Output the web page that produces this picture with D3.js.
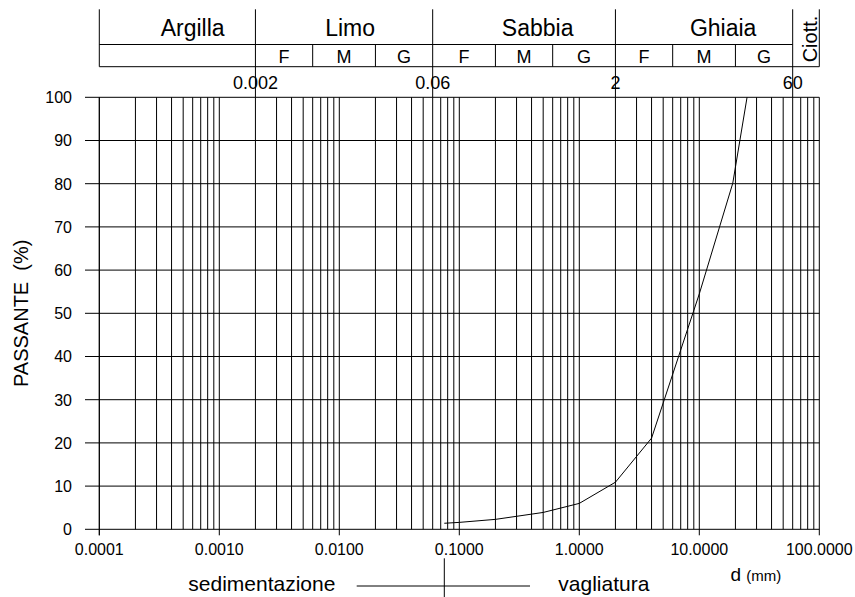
<!DOCTYPE html>
<html>
<head>
<meta charset="utf-8">
<script src="https://cdn.jsdelivr.net/npm/d3@7"></script>
<style>
  html, body { margin: 0; padding: 0; background: #fff; }
  svg { display: block; }
  text { font-family: "Liberation Sans", Arial, sans-serif; fill: #000; }
</style>
</head>
<body>
<svg id="chart" width="855" height="597"></svg>
<script>
// ---- data ----
const sizes   = [0.075, 0.1, 0.2, 0.5, 1, 2, 4, 10, 19, 25];          // d (mm)
const passing = [1.4, 1.6, 2.3, 3.9, 6.0, 10.9, 21.1, 54.5, 80.1, 100]; // %
const xTickValues = [0.0001, 0.001, 0.01, 0.1, 1, 10, 100];
const xTickLabels = ["0.0001", "0.0010", "0.0100", "0.1000", "1.0000", "10.0000", "100.0000"];
const yTickValues = [0, 10, 20, 30, 40, 50, 60, 70, 80, 90, 100];
const classNames  = ["Argilla", "Limo", "Sabbia", "Ghiaia"];
const classAnchor = [0.0006, 0.0123, 0.45, 15.8];   // d where class name is centred
const boundaries  = [0.002, 0.06, 2, 60];
const boundaryLabels = ["0.002", "0.06", "2", "60"];
const subBounds   = [[0.002, 0.006, 0.02, 0.06], [0.06, 0.2, 0.6, 2], [2, 6, 20, 60]];
const subLabels   = ["F", "M", "G"];
const lastClass   = "Ciott.";
const sieveLimit  = 0.075;

// ---- layout ----
const svg = d3.select("#chart");
const x = d3.scaleLog().domain([0.0001, 100]).range([99.3, 819.3]);
const y = d3.scaleLinear().domain([0, 100]).range([529.3, 97.3]);
const hTop = 9.3, hMid = 44.5, hBot = 66.7;

// vertical grid
const gridVals = x.ticks();
svg.append("g").selectAll("line").data(gridVals).join("line")
  .attr("x1", d => x(d)).attr("x2", d => x(d))
  .attr("y1", y(100))
  .attr("y2", d => xTickValues.some(t => Math.abs(Math.log10(t) - Math.log10(d)) < 1e-9) ? y(0) + 6 : y(0))
  .attr("stroke", "#000").attr("stroke-width", 1);

// horizontal grid
svg.append("g").selectAll("line").data(yTickValues).join("line")
  .attr("x1", 85).attr("x2", x(100))
  .attr("y1", d => y(d)).attr("y2", d => y(d))
  .attr("stroke", "#000").attr("stroke-width", 1);

// class boundaries extending into header
svg.append("g").selectAll("line").data(boundaries).join("line")
  .attr("x1", d => x(d)).attr("x2", d => x(d))
  .attr("y1", hTop).attr("y2", y(100))
  .attr("stroke", "#000").attr("stroke-width", 1);

// header frame
const hdr = svg.append("g").attr("stroke", "#000").attr("stroke-width", 1);
hdr.append("line").attr("x1", x(0.0001)).attr("x2", x(0.0001)).attr("y1", hTop).attr("y2", hBot);
hdr.append("line").attr("x1", x(100)).attr("x2", x(100)).attr("y1", hTop).attr("y2", hBot);
hdr.append("line").attr("x1", x(0.0001)).attr("x2", x(60)).attr("y1", hMid).attr("y2", hMid);
hdr.append("line").attr("x1", x(0.0001)).attr("x2", x(100)).attr("y1", hBot).attr("y2", hBot);
subBounds.forEach(b => {
  b.slice(1, 3).forEach(v => {
    hdr.append("line").attr("x1", x(v)).attr("x2", x(v)).attr("y1", hMid).attr("y2", hBot);
  });
});

// header texts
svg.append("g").selectAll("text").data(classNames).join("text")
  .attr("x", (d, i) => x(classAnchor[i])).attr("y", 36)
  .attr("text-anchor", "middle").attr("font-size", 23).text(d => d);

subBounds.forEach(b => {
  subLabels.forEach((s, i) => {
    svg.append("text")
      .attr("x", (x(b[i]) + x(b[i + 1])) / 2).attr("y", 63.3)
      .attr("text-anchor", "middle").attr("font-size", 18).text(s);
  });
});

svg.append("text")
  .attr("transform", `translate(${x(100) - 2.5},${(hTop + hBot) / 2 + 1}) rotate(-90)`)
  .attr("text-anchor", "middle").attr("font-size", 20).text(lastClass);

svg.append("g").selectAll("text").data(boundaries).join("text")
  .attr("x", d => x(d)).attr("y", 88.5)
  .attr("text-anchor", "middle").attr("font-size", 18)
  .text((d, i) => boundaryLabels[i]);

// axes lines
svg.append("line").attr("x1", x(0.0001)).attr("x2", x(0.0001))
  .attr("y1", y(100)).attr("y2", y(0) + 6).attr("stroke", "#000");

// tick labels
svg.append("g").selectAll("text").data(xTickValues).join("text")
  .attr("x", d => x(d)).attr("y", 555)
  .attr("text-anchor", "middle").attr("font-size", 16)
  .text((d, i) => xTickLabels[i]);

svg.append("g").selectAll("text").data(yTickValues).join("text")
  .attr("x", 72).attr("y", d => y(d) + 5.8)
  .attr("text-anchor", "end").attr("font-size", 16)
  .text(d => d);

// axis titles
svg.append("text")
  .attr("transform", `translate(28.3,${(y(0) + y(100)) / 2}) rotate(-90)`)
  .attr("text-anchor", "middle").attr("font-size", 20)
  .attr("xml:space", "preserve").style("white-space", "pre")
  .text("PASSANTE  (%)");

const dt = svg.append("text").attr("x", 730.5).attr("y", 581);
dt.append("tspan").attr("font-size", 19).text("d ");
dt.append("tspan").attr("font-size", 15).text("(mm)");

svg.append("text").attr("x", 188.3).attr("y", 591.3).attr("font-size", 21).text("sedimentazione");
svg.append("text").attr("x", 558.3).attr("y", 591.3).attr("font-size", 21).text("vagliatura");
svg.append("line").attr("x1", 356.7).attr("x2", 530).attr("y1", 586).attr("y2", 586).attr("stroke", "#000");
svg.append("line").attr("x1", x(sieveLimit)).attr("x2", x(sieveLimit)).attr("y1", 558.3).attr("y2", 597).attr("stroke", "#000");

// curve
const line = d3.line().x(d => x(d[0])).y(d => y(d[1]));
svg.append("path")
  .datum(sizes.map((s, i) => [s, passing[i]]))
  .attr("d", line)
  .attr("fill", "none").attr("stroke", "#000").attr("stroke-width", 1);
</script>
</body>
</html>
